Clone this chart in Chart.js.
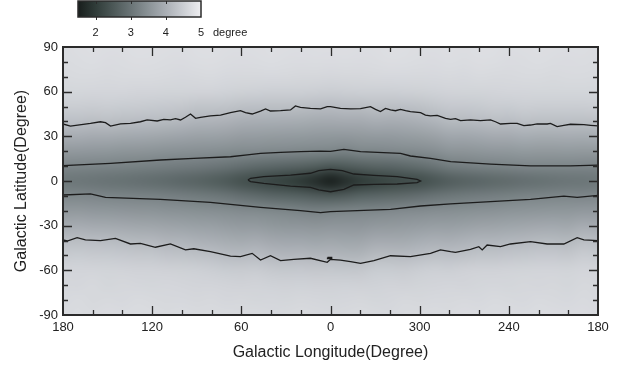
<!DOCTYPE html>
<html>
<head>
<meta charset="utf-8">
<script src="https://cdn.jsdelivr.net/npm/chart.js@4.4.1/dist/chart.umd.min.js"></script>
<style>
  html, body { margin: 0; padding: 0; background: #fff; }
  #wrap { width: 619px; height: 366px; }
</style>
</head>
<body>
<div id="wrap"><canvas id="map" width="619" height="366"></canvas></div>
<script>
// 网格中心（度）：经度从左到右 180 -> 0 -> -180（即 180..0..300..180）
const lonCenters = [180,170,160,150,140,130,120,110,100,90,80,70,60,50,40,30,20,10,0,-10,-20,-30,-40,-50,-60,-70,-80,-90,-100,-110,-120,-130,-140,-150,-160,-170,-180];
const latCenters = [90,80,70,60,50,40,30,20,10,0,-10,-20,-30,-40,-50,-60,-70,-80,-90];

// 每行一个纬度，数值单位 degree（从图上读出的灰度估计）
const dispersion = [
  [4.72,4.74,4.75,4.73,4.74,4.76,4.75,4.74,4.73,4.75,4.76,4.74,4.73,4.74,4.75,4.74,4.73,4.74,4.74,4.75,4.73,4.74,4.76,4.75,4.74,4.73,4.75,4.74,4.76,4.75,4.73,4.74,4.75,4.74,4.73,4.74,4.72],
  [4.70,4.72,4.73,4.71,4.72,4.74,4.73,4.72,4.71,4.73,4.74,4.72,4.71,4.72,4.73,4.72,4.71,4.72,4.71,4.72,4.71,4.72,4.74,4.73,4.72,4.71,4.73,4.72,4.74,4.73,4.71,4.72,4.73,4.72,4.71,4.72,4.70],
  [4.67,4.68,4.68,4.67,4.68,4.69,4.68,4.67,4.66,4.67,4.68,4.66,4.65,4.65,4.66,4.65,4.64,4.64,4.63,4.64,4.64,4.65,4.66,4.66,4.65,4.66,4.67,4.66,4.68,4.67,4.67,4.68,4.68,4.67,4.68,4.68,4.67],
  [4.62,4.62,4.61,4.61,4.61,4.60,4.60,4.59,4.59,4.58,4.58,4.56,4.54,4.53,4.52,4.52,4.51,4.50,4.49,4.50,4.51,4.52,4.52,4.53,4.54,4.56,4.58,4.59,4.59,4.60,4.61,4.61,4.62,4.62,4.62,4.62,4.62],
  [4.49,4.49,4.47,4.48,4.46,4.45,4.43,4.41,4.39,4.34,4.34,4.32,4.27,4.26,4.25,4.25,4.24,4.21,4.20,4.23,4.22,4.27,4.25,4.26,4.29,4.35,4.41,4.41,4.43,4.47,4.46,4.50,4.48,4.48,4.49,4.48,4.50],
  [4.26,4.26,4.24,4.25,4.22,4.21,4.20,4.17,4.13,4.08,4.07,4.04,3.99,3.97,3.96,3.95,3.94,3.91,3.90,3.92,3.92,3.97,3.95,3.97,4.01,4.08,4.17,4.17,4.20,4.24,4.23,4.27,4.25,4.25,4.26,4.25,4.27],
  [3.95,3.95,3.92,3.92,3.89,3.88,3.86,3.83,3.80,3.76,3.75,3.73,3.68,3.67,3.65,3.64,3.63,3.61,3.60,3.59,3.62,3.64,3.64,3.67,3.70,3.76,3.85,3.85,3.88,3.92,3.92,3.96,3.94,3.94,3.95,3.94,3.96],
  [3.62,3.61,3.59,3.58,3.55,3.54,3.52,3.49,3.47,3.45,3.43,3.41,3.38,3.37,3.35,3.34,3.32,3.30,3.28,3.23,3.31,3.32,3.34,3.36,3.39,3.44,3.53,3.54,3.57,3.59,3.60,3.63,3.62,3.62,3.63,3.62,3.62],
  [3.29,3.28,3.27,3.25,3.23,3.21,3.18,3.15,3.12,3.09,3.04,2.98,2.90,2.82,2.77,2.72,2.68,2.60,2.50,2.57,2.65,2.71,2.74,2.80,2.89,3.00,3.13,3.17,3.22,3.24,3.27,3.29,3.30,3.30,3.30,3.29,3.28],
  [3.05,3.03,3.00,2.97,2.94,2.90,2.85,2.80,2.74,2.68,2.60,2.50,2.35,2.25,2.15,2.05,1.92,1.72,1.50,1.74,1.95,2.07,2.17,2.25,2.30,2.45,2.58,2.66,2.72,2.78,2.83,2.88,2.92,2.96,3.00,3.02,3.05],
  [3.32,3.32,3.29,3.27,3.25,3.23,3.22,3.18,3.15,3.11,3.07,3.00,2.90,2.82,2.74,2.69,2.64,2.56,2.51,2.58,2.69,2.74,2.78,2.83,2.90,2.98,3.05,3.10,3.14,3.17,3.21,3.25,3.27,3.28,3.30,3.29,3.31],
  [3.61,3.62,3.59,3.58,3.56,3.54,3.53,3.50,3.48,3.46,3.44,3.41,3.37,3.36,3.33,3.30,3.25,3.22,3.25,3.28,3.30,3.31,3.34,3.37,3.39,3.42,3.43,3.46,3.48,3.50,3.53,3.55,3.57,3.58,3.58,3.61,3.61],
  [3.91,3.93,3.90,3.89,3.87,3.84,3.83,3.79,3.77,3.74,3.72,3.67,3.64,3.64,3.60,3.57,3.56,3.54,3.56,3.56,3.56,3.61,3.62,3.64,3.67,3.71,3.71,3.74,3.78,3.79,3.82,3.84,3.87,3.88,3.86,3.93,3.90],
  [4.21,4.22,4.21,4.20,4.17,4.14,4.13,4.07,4.06,4.02,3.99,3.94,3.91,3.93,3.87,3.85,3.85,3.82,3.84,3.82,3.83,3.90,3.90,3.91,3.96,4.00,3.99,4.03,4.08,4.08,4.11,4.13,4.17,4.17,4.14,4.24,4.20],
  [4.44,4.46,4.44,4.43,4.41,4.39,4.38,4.33,4.32,4.29,4.26,4.20,4.18,4.21,4.15,4.12,4.13,4.10,4.12,4.09,4.09,4.19,4.19,4.18,4.23,4.27,4.26,4.29,4.34,4.34,4.36,4.38,4.41,4.41,4.39,4.47,4.43],
  [4.60,4.60,4.60,4.59,4.58,4.57,4.57,4.55,4.54,4.53,4.50,4.46,4.45,4.47,4.42,4.40,4.41,4.39,4.40,4.38,4.39,4.46,4.46,4.45,4.50,4.53,4.52,4.55,4.57,4.57,4.58,4.59,4.60,4.60,4.59,4.61,4.60],
  [4.64,4.63,4.65,4.62,4.64,4.63,4.62,4.63,4.61,4.60,4.60,4.58,4.57,4.58,4.56,4.55,4.56,4.55,4.55,4.56,4.55,4.56,4.58,4.57,4.59,4.60,4.61,4.60,4.62,4.63,4.62,4.64,4.63,4.64,4.62,4.65,4.64],
  [4.66,4.68,4.65,4.67,4.66,4.68,4.67,4.65,4.66,4.64,4.65,4.63,4.64,4.62,4.63,4.62,4.64,4.63,4.62,4.63,4.64,4.62,4.63,4.65,4.64,4.66,4.65,4.67,4.66,4.68,4.67,4.66,4.68,4.67,4.66,4.68,4.66],
  [4.68,4.70,4.69,4.71,4.70,4.72,4.70,4.69,4.70,4.68,4.69,4.68,4.67,4.68,4.66,4.67,4.68,4.67,4.66,4.67,4.68,4.67,4.66,4.68,4.69,4.70,4.69,4.71,4.70,4.72,4.71,4.70,4.72,4.71,4.70,4.71,4.69]
];

// 等值线 [经度, 纬度]
const outerNorth = [[180,38.3],[175,36.9],[161.5,38.7],[154.8,39.8],[151.4,39.2],[148,36.9],[141.3,38.3],[134.6,38.7],[127.9,39.8],[123.4,41],[116.6,40.3],[112.2,41.4],[107.7,41],[104.3,41.9],[100.9,41],[97.6,42.8],[94.2,45],[90.8,42.1],[87.5,42.8],[80.8,43.7],[74,44.3],[67.3,45.9],[60.6,47.2],[57.2,45.9],[52.7,45],[47.1,47],[43.7,48.4],[40.4,47],[33.6,47.2],[26.9,47.7],[23.6,50.4],[20.2,49.5],[13.5,48.8],[6.7,48.4],[2.2,49.9],[0,49.9],[-6.7,48.8],[-13.5,48.4],[-20.2,48.6],[-26.9,49.9],[-30.3,48.1],[-33.6,46.6],[-37,48.8],[-40.4,47.7],[-43.7,47.2],[-47.1,48.1],[-50.5,47.2],[-53.8,46.6],[-60.6,45.9],[-63.9,44.3],[-67.3,43.7],[-71.8,44.1],[-77.4,42.1],[-80.8,41.4],[-84.1,41.9],[-87.5,40.5],[-94.2,41],[-100.9,40.5],[-107.7,41],[-111,39.8],[-114.4,38.3],[-121.1,38.7],[-125.6,38.7],[-130.1,37.2],[-134.6,37.6],[-139.1,38.3],[-145.8,38.3],[-148,38.7],[-152.5,36.5],[-157,37.4],[-161.5,38.1],[-170.5,37.8],[-175,37.4],[-180,37]];
const middleNorth = [[180,10.3],[148,11.9],[114.4,14.1],[92,15.2],[67.3,16.3],[56,17.5],[47.1,18.6],[33.6,19.2],[20.2,19.7],[6.7,20.1],[0,19.9],[-9,21.3],[-20.2,19.7],[-47.1,18.6],[-53.8,16.8],[-67.3,15.2],[-80.8,13],[-107.7,11.4],[-134.6,10.1],[-161.5,10.1],[-180,10.7]];
const innerBulge = [[55.6,0.7],[53.8,1.8],[44.9,2.9],[26.9,4],[13.5,5.2],[7.9,6.9],[0,7.8],[-7.9,6.9],[-15.7,4.7],[-29.2,3.8],[-44.9,2.9],[-58.3,1.1],[-60.6,0],[-58.3,-1.1],[-44.9,-2],[-29.2,-2.2],[-15.7,-2.7],[-9,-5.6],[0,-7.2],[7.9,-6],[13.5,-4.3],[26.9,-3.4],[44.9,-1.6],[53.8,-0.4],[55.6,0.7]];
const middleSouth = [[180,-9.4],[161.5,-8.7],[151.4,-11],[114.4,-12.3],[80.8,-14.3],[67.3,-15.7],[47.1,-17.7],[20.2,-19.9],[6.7,-21.3],[0,-20.6],[-13.5,-20.1],[-40.4,-19],[-60.6,-16.8],[-80.8,-15.4],[-107.7,-13.9],[-134.6,-12.3],[-157,-10.1],[-166,-11],[-180,-9.6]];
const outerSouth = [[180,-39.6],[177.2,-40.3],[170.5,-38.1],[164.9,-39.6],[154.8,-40.1],[144.7,-38.5],[134.6,-42.3],[127.9,-41.9],[117.8,-44.5],[107.7,-42.3],[97.6,-46.3],[92,-45.5],[80.8,-47.5],[67.3,-50.4],[60.6,-50.8],[52.7,-48.6],[47.1,-53.1],[40.4,-50.2],[33.6,-53.5],[24.7,-52.6],[13.5,-51.9],[2.2,-54.6],[0,-52.6],[-6.7,-53.1],[-13.5,-54.2],[-20.2,-55.3],[-29.2,-53.5],[-40.4,-50.2],[-53.8,-50.8],[-67.3,-48.6],[-74,-46.3],[-80.8,-47.5],[-84.1,-47.9],[-94.2,-45.9],[-99.8,-44.1],[-102.1,-46.3],[-105.4,-43],[-114.4,-44.1],[-121.1,-42.3],[-134.6,-40.7],[-145.8,-42.3],[-157,-42.3],[-166,-38.1],[-170.5,-39.6],[-180,-40.1]];
const smallIsland = [[2,-51.3],[-0.8,-51.3],[-0.8,-52.1],[2,-52.1],[2,-51.3]];

// 色标刻度
const barTicks = [2, 3, 4, 5];
const barMin = 1.5, barMax = 5;

// 灰度色带（暗部略带青绿色）
const cmapStops = [
  [1.5, [24, 30, 28]],
  [2.0, [48, 60, 57]],
  [2.5, [76, 88, 87]],
  [3.0, [106, 116, 118]],
  [3.5, [138, 146, 150]],
  [4.0, [170, 175, 181]],
  [4.5, [203, 206, 211]],
  [5.0, [238, 238, 241]]
];

function colorFor(v) {
  if (v <= cmapStops[0][0]) return cmapStops[0][1];
  for (let i = 1; i < cmapStops.length; i++) {
    const [v1, c1] = cmapStops[i];
    const [v0, c0] = cmapStops[i - 1];
    if (v <= v1) {
      const t = (v - v0) / (v1 - v0);
      return c0.map((c, k) => Math.round(c + (c1[k] - c) * t));
    }
  }
  return cmapStops[cmapStops.length - 1][1];
}

const FONT = '"Liberation Sans", Arial, Helvetica, sans-serif';
const INK = '#2b2b2b';

// 热力图：网格先画到小画布，再按坐标轴放大到绘图区
const heatmapPlugin = {
  id: 'heatmap',
  beforeDatasetsDraw(chart) {
    const { ctx, chartArea, scales: { x, y } } = chart;
    const nx = lonCenters.length, ny = latCenters.length;
    const off = document.createElement('canvas');
    off.width = nx;
    off.height = ny;
    const octx = off.getContext('2d');
    const img = octx.createImageData(nx, ny);
    for (let j = 0; j < ny; j++) {
      for (let i = 0; i < nx; i++) {
        const c = colorFor(dispersion[j][i]);
        const k = (j * nx + i) * 4;
        img.data[k] = c[0];
        img.data[k + 1] = c[1];
        img.data[k + 2] = c[2];
        img.data[k + 3] = 255;
      }
    }
    octx.putImageData(img, 0, 0);

    const halfLon = (lonCenters[0] - lonCenters[1]) / 2;
    const halfLat = (latCenters[0] - latCenters[1]) / 2;
    const x0 = x.getPixelForValue(lonCenters[0] + halfLon);
    const x1 = x.getPixelForValue(lonCenters[nx - 1] - halfLon);
    const y0 = y.getPixelForValue(latCenters[0] + halfLat);
    const y1 = y.getPixelForValue(latCenters[ny - 1] - halfLat);

    ctx.save();
    ctx.beginPath();
    ctx.rect(chartArea.left, chartArea.top, chartArea.width, chartArea.height);
    ctx.clip();
    ctx.imageSmoothingEnabled = true;
    ctx.imageSmoothingQuality = 'high';
    ctx.drawImage(off, x0, y0, x1 - x0, y1 - y0);
    ctx.restore();
  }
};

// 边框 + 向内的刻度线（四边都有）
const frameTicksPlugin = {
  id: 'frameTicks',
  afterDatasetsDraw(chart) {
    const { ctx, chartArea: a, scales: { x, y } } = chart;
    ctx.save();
    ctx.strokeStyle = INK;
    ctx.lineWidth = 1.3;
    x.ticks.forEach(t => {
      if (Math.abs(t.value) === 180) return;
      const px = Math.round(x.getPixelForValue(t.value)) + 0.5;
      const len = t.value % 60 === 0 ? 9 : 5;
      ctx.beginPath();
      ctx.moveTo(px, a.bottom); ctx.lineTo(px, a.bottom - len);
      ctx.moveTo(px, a.top); ctx.lineTo(px, a.top + len);
      ctx.stroke();
    });
    y.ticks.forEach(t => {
      if (Math.abs(t.value) === 90) return;
      const py = Math.round(y.getPixelForValue(t.value)) + 0.5;
      const len = t.value % 30 === 0 ? 9 : 5;
      ctx.beginPath();
      ctx.moveTo(a.left, py); ctx.lineTo(a.left + len, py);
      ctx.moveTo(a.right, py); ctx.lineTo(a.right - len, py);
      ctx.stroke();
    });
    ctx.lineWidth = 2;
    ctx.strokeRect(a.left, a.top, a.right - a.left, a.bottom - a.top);
    ctx.restore();
  }
};

// 顶部色标
const colorbarPlugin = {
  id: 'colorbar',
  afterDraw(chart) {
    const { ctx } = chart;
    const bx = 78, by = 1, bw = 123, bh = 16;
    ctx.save();
    const grad = ctx.createLinearGradient(bx, 0, bx + bw, 0);
    cmapStops.forEach(([v, c]) => {
      grad.addColorStop((v - barMin) / (barMax - barMin), `rgb(${c[0]},${c[1]},${c[2]})`);
    });
    ctx.fillStyle = grad;
    ctx.fillRect(bx, by, bw, bh);
    ctx.strokeStyle = INK;
    ctx.lineWidth = 1.5;
    ctx.strokeRect(bx, by, bw, bh);
    ctx.fillStyle = '#222';
    ctx.font = '11px ' + FONT;
    ctx.textAlign = 'center';
    ctx.textBaseline = 'middle';
    ctx.lineWidth = 1;
    barTicks.forEach(v => {
      const px = bx + (v - barMin) / (barMax - barMin) * bw;
      if (v < barMax) {
        ctx.beginPath();
        ctx.moveTo(Math.round(px) + 0.5, by + bh);
        ctx.lineTo(Math.round(px) + 0.5, by + bh + 3);
        ctx.moveTo(Math.round(px) + 0.5, by);
        ctx.lineTo(Math.round(px) + 0.5, by + 3);
        ctx.stroke();
      }
      ctx.fillText(String(v), px, 33);
    });
    ctx.textAlign = 'left';
    ctx.fillText('degree', 213, 33);
    ctx.restore();
  }
};

const contourStyle = {
  showLine: true,
  pointRadius: 0,
  borderColor: '#1c1c1c',
  borderWidth: 1.3,
  fill: false,
  tension: 0
};
const toXY = arr => arr.map(p => ({ x: p[0], y: p[1] }));

new Chart(document.getElementById('map'), {
  type: 'scatter',
  data: {
    datasets: [outerNorth, middleNorth, innerBulge, middleSouth, outerSouth, smallIsland]
      .map(arr => Object.assign({ data: toXY(arr) }, contourStyle))
  },
  options: {
    responsive: false,
    animation: false,
    devicePixelRatio: 1,
    layout: { padding: { top: 47, right: 21, left: 0, bottom: 0 } },
    plugins: { legend: { display: false }, tooltip: { enabled: false } },
    scales: {
      x: {
        type: 'linear',
        min: -180,
        max: 180,
        reverse: true,
        grid: { display: false, drawTicks: false },
        border: { display: false },
        ticks: {
          stepSize: 20,
          autoSkip: false,
          maxRotation: 0,
          padding: 5,
          color: '#222',
          font: { family: FONT, size: 13 },
          callback: v => (v % 60 === 0 ? String(v < 0 ? v + 360 : v) : '')
        },
        title: {
          display: true,
          text: 'Galactic Longitude(Degree)',
          color: '#222',
          font: { family: FONT, size: 16 },
          padding: { top: 0, bottom: 4 }
        },
        afterFit: s => { s.height = 51; }
      },
      y: {
        type: 'linear',
        min: -90,
        max: 90,
        grid: { display: false, drawTicks: false },
        border: { display: false },
        ticks: {
          stepSize: 10,
          autoSkip: false,
          padding: 5,
          color: '#222',
          font: { family: FONT, size: 13 },
          callback: v => (v % 30 === 0 ? String(v) : '')
        },
        title: {
          display: true,
          text: 'Galactic Latitude(Degree)',
          color: '#222',
          font: { family: FONT, size: 16 },
          padding: { top: 12, bottom: 0 }
        },
        afterFit: s => { s.width = 63; }
      }
    }
  },
  plugins: [heatmapPlugin, frameTicksPlugin, colorbarPlugin]
});
</script>
</body>
</html>
